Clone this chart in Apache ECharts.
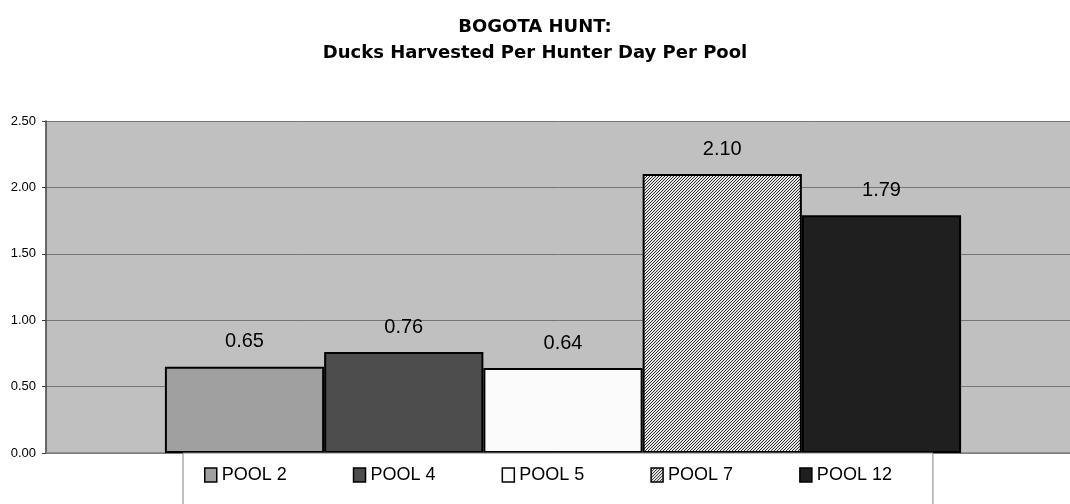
<!DOCTYPE html>
<html>
<head>
<meta charset="utf-8">
<script src="https://cdn.jsdelivr.net/npm/echarts@6/dist/echarts.min.js"></script>
<style>
  html, body { margin: 0; padding: 0; background: #fff; }
  #chart { width: 1070px; height: 504px; }
</style>
</head>
<body>
<div id="chart"></div>
<script>
// Ducks harvested per hunter day, one value per pool
const categories = [''];
const poolNames = ['POOL 2', 'POOL 4', 'POOL 5', 'POOL 7', 'POOL 12'];
const poolValues = [0.65, 0.76, 0.64, 2.10, 1.79];
const yTicks = [0, 0.5, 1.0, 1.5, 2.0, 2.5];

// Fine diagonal hatch used for POOL 7
function hatchCanvas() {
  const n = 3;
  const c = document.createElement('canvas');
  c.width = n; c.height = n;
  const g = c.getContext('2d');
  g.fillStyle = '#e6e6e6';
  g.fillRect(0, 0, n, n);
  g.fillStyle = '#303030';
  for (let y = 0; y < n; y++) {
    for (let x = 0; x < n; x++) {
      if ((x + y) % n === 0) g.fillRect(x, y, 1, 1);
    }
  }
  return c;
}

const fills = [
  '#a0a0a0',
  '#4d4d4d',
  '#fbfbfb',
  { image: hatchCanvas(), repeat: 'repeat' },
  '#1f1f1f'
];

const chart = echarts.init(document.getElementById('chart'), null, { renderer: 'canvas' });

chart.setOption({
  animation: false,
  backgroundColor: '#ffffff',
  title: [
    {
      text: 'BOGOTA HUNT:',
      left: 'center',
      top: 13,
      textStyle: { fontFamily: 'DejaVu Sans', fontWeight: 'bold', fontSize: 18, color: '#000' }
    },
    {
      text: 'Ducks Harvested Per Hunter Day Per Pool',
      left: 'center',
      top: 39,
      textStyle: { fontFamily: 'DejaVu Sans', fontWeight: 'bold', fontSize: 18, color: '#000' }
    }
  ],
  grid: {
    left: 46,
    width: 1034,
    top: 121,
    bottom: 51,
    outerBoundsMode: 'none',
    containLabel: false,
    show: true,
    backgroundColor: '#c0c0c0',
    borderWidth: 0
  },
  legend: {
    data: poolNames,
    left: 183,
    top: 453,
    orient: 'horizontal',
    itemWidth: 12,
    itemHeight: 14,
    itemGap: 66,
    padding: [13, 41, 40, 21],
    backgroundColor: '#ffffff',
    borderColor: '#808080',
    borderWidth: 1,
    borderRadius: 0,
    icon: 'rect',
    itemStyle: { borderColor: '#000', borderWidth: 1.5 },
    textStyle: { fontFamily: 'Liberation Sans', fontSize: 18, color: '#000' }
  },
  xAxis: {
    type: 'category',
    data: categories,
    axisLine: { show: true, lineStyle: { color: '#808080', width: 1.5 } },
    axisTick: { show: false },
    axisLabel: { show: false },
    splitLine: { show: false }
  },
  yAxis: {
    type: 'value',
    min: yTicks[0],
    max: yTicks[yTicks.length - 1],
    interval: yTicks[1] - yTicks[0],
    axisLine: { show: true, lineStyle: { color: '#404040', width: 1.5 } },
    axisTick: { show: true, length: 4, lineStyle: { color: '#404040' } },
    axisLabel: {
      margin: 10,
      fontFamily: 'Liberation Sans',
      fontSize: 13,
      color: '#000',
      formatter: v => v.toFixed(2)
    },
    splitLine: { show: true, lineStyle: { color: '#757575', width: 1 } }
  },
  series: poolNames.map((name, i) => ({
    name,
    type: 'bar',
    data: [poolValues[i]],
    barGap: '0%',
    barCategoryGap: '23%',
    itemStyle: { color: fills[i], borderColor: '#000', borderWidth: 2 },
    label: {
      show: true,
      position: 'top',
      distance: 15,
      fontFamily: 'Liberation Sans',
      fontSize: 20,
      color: '#000',
      formatter: p => p.value.toFixed(2)
    }
  }))
});
</script>
</body>
</html>
